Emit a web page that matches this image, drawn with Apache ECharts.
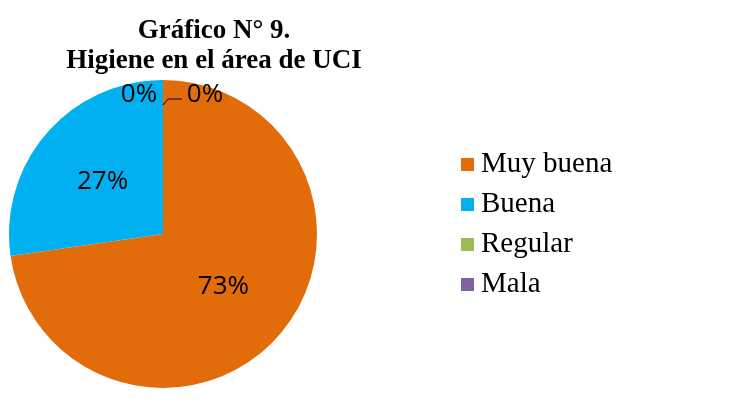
<!DOCTYPE html>
<html>
<head>
<meta charset="utf-8">
<script src="https://cdn.jsdelivr.net/npm/echarts@6/dist/echarts.min.js"></script>
<style>
  html, body { margin: 0; padding: 0; background: #fff; }
  #chart { width: 733px; height: 401px; }
</style>
</head>
<body>
<div id="chart"></div>
<script>
// data (11 answers: 8 / 3 / 0 / 0)
var categories = ['Muy buena', 'Buena', 'Regular', 'Mala'];
var counts = [8, 3, 0, 0];
var colors = ['#E36C0A', '#00B0F0', '#9BBB59', '#8064A2'];

var cx = 163, cy = 234, r = 154;

var chartDom = document.getElementById('chart');
var myChart = echarts.init(chartDom);
var option;

var pieData = categories.map(function (name, i) {
    return { name: name, value: counts[i], itemStyle: { color: colors[i] } };
});

option = {
    backgroundColor: '#fff',
    animation: false,
    title: {
        text: 'Gráfico N° 9.\nHigiene en el área de UCI',
        left: 209,
        top: 11,
        textAlign: 'center',
        textStyle: {
            fontFamily: 'Liberation Serif',
            fontWeight: 'bold',
            fontSize: 27,
            lineHeight: 30,
            color: '#000'
        }
    },
    legend: {
        orient: 'vertical',
        left: 461,
        top: 150,
        padding: 0,
        itemWidth: 13,
        itemHeight: 13,
        itemGap: 11,
        icon: 'rect',
        selectedMode: false,
        data: categories,
        textStyle: {
            fontFamily: 'Liberation Serif',
            fontSize: 29,
            lineHeight: 27,
            color: '#000',
            padding: [0, 0, 0, 2]
        }
    },
    // leader line of the right-hand 0% label
    graphic: [
        {
            type: 'polyline',
            silent: true,
            z: 100,
            shape: { points: [[cx, cy - r + 25], [cx + 5, cy - r + 19], [cx + 19, cy - r + 19]] },
            style: { stroke: '#000', lineWidth: 1, fill: null }
        }
    ],
    series: [
        {
            type: 'pie',
            center: [cx, cy],
            radius: r,
            startAngle: 90,
            clockwise: true,
            avoidLabelOverlap: false,
            silent: true,
            emphasis: { disabled: true },
            label: {
                show: true,
                position: 'inside',
                fontFamily: 'Open Sans',
                fontSize: 26,
                color: '#000',
                formatter: function (p) { return Math.round(p.percent) + '%'; }
            },
            labelLayout: function (p) {
                if (p.dataIndex === 2) {
                    return { x: cx - 24, y: cy - r + 15, align: 'center', verticalAlign: 'middle' };
                }
                if (p.dataIndex === 3) {
                    return { x: cx + 42, y: cy - r + 15, align: 'center', verticalAlign: 'middle' };
                }
                return {};
            },
            data: pieData
        }
    ]
};

option && myChart.setOption(option);
</script>
</body>
</html>
